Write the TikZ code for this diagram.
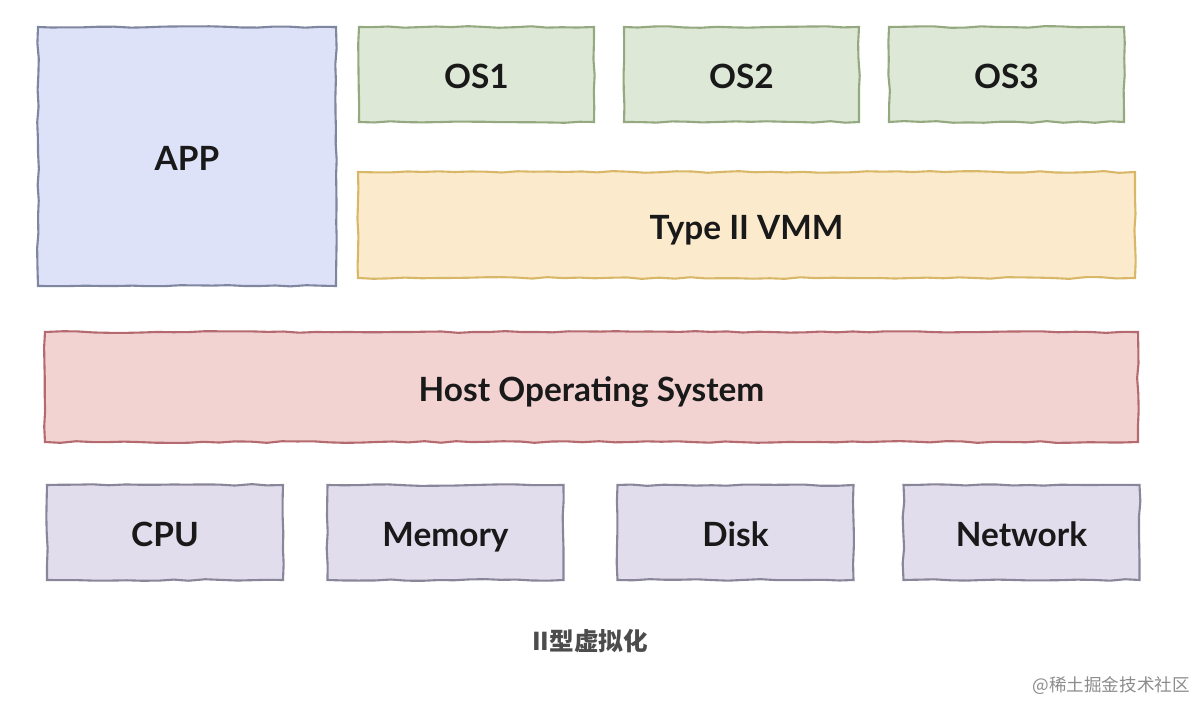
\documentclass[tikz,border=0pt]{standalone}
\usepackage{fontspec}
\setmainfont{Lato}
\newfontfamily\cjkfont{Noto Sans CJK SC}
\usetikzlibrary{decorations.pathmorphing}
\definecolor{appfill}{HTML}{DEE2F8}
\definecolor{appline}{HTML}{7E879F}
\definecolor{osfill}{HTML}{DDE8D7}
\definecolor{osline}{HTML}{95A981}
\definecolor{vmmfill}{HTML}{FBEBCC}
\definecolor{vmmline}{HTML}{D8B868}
\definecolor{hostfill}{HTML}{F2D3D2}
\definecolor{hostline}{HTML}{B46A6E}
\definecolor{hwfill}{HTML}{E1DDEC}
\definecolor{hwline}{HTML}{8A8699}
\tikzstyle{layer} = [rectangle, draw, line width=1.2pt, inner sep=0pt,
    decorate, decoration={random steps, segment length=9pt, amplitude=0.5pt},
    text height=1.6em, text depth=0pt,
    font=\fontsize{19}{23}\selectfont\bfseries, text=black!90]
\tikzstyle{guest} = [layer, fill=osfill, draw=osline, minimum width=4.7cm, minimum height=1.9cm]
\tikzstyle{hw} = [layer, fill=hwfill, draw=hwline, minimum width=4.72cm, minimum height=1.9cm]

\begin{document}
\begin{tikzpicture}
    \useasboundingbox (0,0) rectangle (24.04,-14.04);
    % Place nodes
    \node [layer, fill=appfill, draw=appline, minimum width=5.96cm, minimum height=5.18cm] (app) at (3.74,-3.13) {APP};
    \node [guest] (os1) at (9.53,-1.49) {OS1};
    \node [guest] (os2) at (14.83,-1.49) {OS2};
    \node [guest] (os3) at (20.13,-1.49) {OS3};
    \node [layer, fill=vmmfill, draw=vmmline, minimum width=15.54cm, minimum height=2.12cm] (vmm) at (14.93,-4.5) {Type II VMM};
    \node [layer, fill=hostfill, draw=hostline, minimum width=21.86cm, minimum height=2.2cm] (host) at (11.83,-7.74) {Host Operating System};
    \node [hw] (cpu) at (3.3,-10.65) {CPU};
    \node [hw] (mem) at (8.91,-10.65) {Memory};
    \node [hw] (disk) at (14.71,-10.65) {Disk};
    \node [hw] (net) at (20.43,-10.65) {Network};
    % Captions
    \node [font=\cjkfont\fontsize{14}{16}\selectfont\bfseries, text=black!70] (caption) at (11.8,-12.82) {II型虚拟化};
    \node [font=\cjkfont\fontsize{10}{12}\selectfont, text=black!45, anchor=east] (mark) at (23.92,-13.72) {@稀土掘金技术社区};
\end{tikzpicture}
\end{document}
